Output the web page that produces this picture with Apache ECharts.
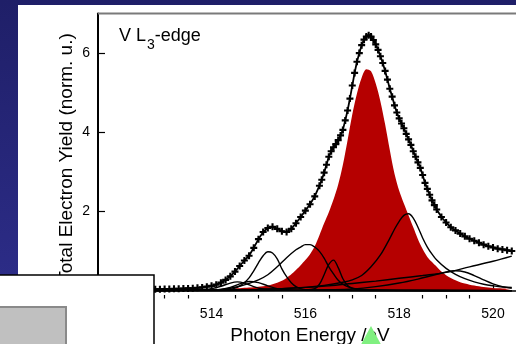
<!DOCTYPE html>
<html>
<head>
<meta charset="utf-8">
<script src="https://cdn.jsdelivr.net/npm/echarts@6/dist/echarts.min.js"></script>
<style>
html,body{margin:0;padding:0;background:#26267a;}
#c{width:516px;height:344px;}
</style>
</head>
<body>
<div id="c"></div>
<script>
// Photon energy (eV) / normalised total electron yield pairs

// measured spectrum
const teyData = [
  [512.0,0.03],[512.1,0.03],[512.2,0.03],[512.3,0.03],[512.4,0.03],[512.5,0.03],[512.6,0.03],[512.7,0.03],
  [512.8,0.035],[512.9,0.035],[513.0,0.04],[513.1,0.04],[513.2,0.045],[513.3,0.045],[513.4,0.05],[513.5,0.055],
  [513.6,0.06],[513.7,0.07],[513.8,0.08],[513.9,0.1],[514.0,0.12],[514.1,0.15],[514.2,0.2],[514.3,0.27],
  [514.4,0.36],[514.5,0.48],[514.6,0.62],[514.7,0.76],[514.8,0.88],[514.9,1.08],[515.0,1.3],[515.1,1.48],
  [515.2,1.58],[515.3,1.61],[515.4,1.56],[515.5,1.5],[515.6,1.48],[515.7,1.56],[515.8,1.7],[515.9,1.86],
  [516.0,2.02],[516.1,2.18],[516.2,2.38],[516.3,2.65],[516.35,2.8],[516.4,2.98],[516.45,3.18],[516.5,3.38],
  [516.55,3.52],[516.6,3.62],[516.65,3.7],[516.7,3.8],[516.75,3.92],[516.8,4.06],[516.85,4.3],[516.9,4.55],
  [516.95,4.85],[517.0,5.18],[517.05,5.5],[517.1,5.78],[517.15,6.0],[517.2,6.2],[517.25,6.34],[517.3,6.42],
  [517.35,6.45],[517.4,6.42],[517.45,6.33],[517.5,6.22],[517.55,6.08],[517.6,5.92],[517.65,5.75],[517.7,5.55],
  [517.75,5.33],[517.8,5.1],[517.85,4.9],[517.9,4.68],[517.95,4.5],[518.0,4.35],[518.05,4.22],[518.1,4.1],
  [518.15,3.96],[518.2,3.82],[518.25,3.68],[518.3,3.52],[518.35,3.38],[518.4,3.24],[518.45,3.1],[518.5,2.92],
  [518.55,2.72],[518.6,2.57],[518.65,2.42],[518.7,2.28],[518.75,2.16],[518.8,2.05],[518.9,1.86],[519.0,1.72],
  [519.1,1.6],[519.2,1.52],[519.3,1.44],[519.4,1.37],[519.5,1.31],[519.6,1.26],[519.7,1.21],[519.8,1.16],
  [519.9,1.12],[520.0,1.09],[520.1,1.06],[520.2,1.04],[520.3,1.02],[520.4,1.0]
];

// main L3 component (filled)
const mainPeak = [
  [512.0,0.01],[512.5,0.015],[513.0,0.02],[513.5,0.025],[514.0,0.035],[514.2,0.04],[514.4,0.05],[514.6,0.06],
  [514.8,0.075],[515.0,0.1],[515.1,0.11],[515.2,0.13],[515.3,0.16],[515.4,0.2],[515.5,0.25],[515.6,0.32],
  [515.7,0.41],[515.8,0.52],[515.9,0.64],[516.0,0.77],[516.1,0.92],[516.2,1.12],[516.3,1.4],[516.4,1.7],
  [516.5,1.98],[516.6,2.3],[516.7,2.68],[516.8,3.18],[516.9,3.8],[517.0,4.45],[517.1,4.98],[517.2,5.38],
  [517.3,5.59],[517.4,5.54],[517.5,5.23],[517.6,4.78],[517.7,4.2],[517.8,3.55],[517.9,2.95],[518.0,2.52],
  [518.1,2.2],[518.2,1.9],[518.3,1.6],[518.4,1.3],[518.5,1.05],[518.6,0.85],[518.7,0.72],[518.8,0.6],
  [518.9,0.48],[519.0,0.39],[519.1,0.32],[519.2,0.26],[519.3,0.21],[519.4,0.18],[519.5,0.15],[519.6,0.13],
  [519.7,0.11],[519.8,0.09],[519.9,0.08],[520.0,0.065],[520.2,0.055],[520.4,0.045]
];

// further fit components
const peak514a = [
  [512.0,0.0],[513.0,0.005],[513.5,0.01],[513.8,0.02],[514.0,0.05],[514.2,0.11],[514.4,0.19],[514.55,0.22],
  [514.7,0.19],[514.9,0.1],[515.1,0.04],[515.3,0.015],[515.8,0.005],[520.4,0.0]
];
const peak514b = [
  [512.0,0.0],[513.5,0.005],[514.0,0.01],[514.2,0.03],[514.4,0.08],[514.6,0.17],[514.8,0.23],[515.0,0.2],
  [515.2,0.12],[515.4,0.05],[515.6,0.02],[516.0,0.005],[520.4,0.0]
];
const peak515 = [
  [512.0,0.0],[513.5,0.005],[514.0,0.01],[514.2,0.015],[514.4,0.03],[514.5,0.06],[514.6,0.12],[514.7,0.2],
  [514.8,0.32],[514.9,0.5],[515.0,0.7],[515.1,0.88],[515.2,0.98],[515.3,0.95],[515.4,0.8],[515.5,0.55],
  [515.6,0.35],[515.7,0.2],[515.8,0.1],[515.9,0.05],[516.0,0.025],[516.3,0.01],[517.0,0.005],[520.4,0.0]
];
const peak516 = [
  [512.0,0.0],[513.5,0.01],[514.0,0.02],[514.2,0.03],[514.4,0.06],[514.6,0.11],[514.8,0.18],[515.0,0.27],
  [515.2,0.4],[515.4,0.6],[515.6,0.83],[515.8,1.03],[515.9,1.1],[516.0,1.16],[516.1,1.16],[516.2,1.1],
  [516.3,0.99],[516.4,0.82],[516.5,0.6],[516.6,0.42],[516.7,0.26],[516.8,0.16],[516.9,0.1],[517.0,0.06],
  [517.2,0.03],[517.5,0.015],[518.0,0.005],[520.4,0.0]
];
const peak516b = [
  [512.0,0.0],[515.5,0.005],[516.0,0.015],[516.2,0.05],[516.3,0.16],[516.4,0.4],[516.5,0.66],[516.6,0.77],
  [516.7,0.58],[516.8,0.3],[516.9,0.13],[517.0,0.06],[517.1,0.03],[517.3,0.015],[517.8,0.005],[520.4,0.0]
];
const peak518 = [
  [512.0,0.0],[514.0,0.01],[514.5,0.02],[515.0,0.03],[515.5,0.05],[516.0,0.08],[516.4,0.13],[516.8,0.21],
  [517.0,0.27],[517.2,0.38],[517.4,0.6],[517.6,0.9],[517.8,1.32],[517.9,1.55],[518.0,1.75],[518.1,1.9],
  [518.2,1.94],[518.3,1.83],[518.4,1.6],[518.5,1.33],[518.6,1.1],[518.7,0.92],[518.8,0.77],[519.0,0.56],
  [519.2,0.41],[519.4,0.3],[519.6,0.22],[519.8,0.16],[520.0,0.12],[520.2,0.09],[520.4,0.08]
];
const peak519 = [
  [512.0,0.0],[515.0,0.005],[516.0,0.01],[516.5,0.02],[517.0,0.04],[517.5,0.1],[518.0,0.19],[518.4,0.29],
  [518.7,0.38],[519.0,0.47],[519.2,0.5],[519.4,0.47],[519.6,0.38],[519.8,0.27],[520.0,0.17],[520.2,0.1],
  [520.4,0.06]
];
// edge step background
const edgeStep = [
  [512.0,0.0],[514.0,0.01],[515.0,0.03],[515.5,0.05],[516.0,0.08],[516.5,0.12],[517.0,0.18],[517.5,0.24],
  [518.0,0.31],[518.5,0.38],[519.0,0.46],[519.5,0.6],[520.0,0.74],[520.4,0.87]
];

// axis ticks
const xMajorTicks = [514, 516, 518, 520];
const xMinorTicks = [512, 512.5, 513, 513.5, 514.5, 515, 515.5, 516.5, 517, 517.5, 518.5, 519, 519.5];
const yTicks = [2, 4, 6];

const FONT = '"Liberation Sans", Arial, Helvetica, sans-serif';
const X_MIN = 511.58, X_MAX = 520.49;
const chart = echarts.init(document.getElementById('c'), null, { renderer: 'canvas' });

const component = (data) => ({
  type: 'line', data: data, smooth: 0.35, showSymbol: false, silent: true,
  lineStyle: { color: '#000', width: 1.4 }, z: 4
});

// bold "+" marker for the measured points
const plusSymbol = 'path://M2.8,0H5.2V2.8H8V5.2H5.2V8H2.8V5.2H0V2.8H2.8Z';

chart.setOption({
  animation: false,
  backgroundColor: 'transparent',
  grid: { left: 98, top: 13.5, right: 0, bottom: 45.5, containLabel: false },
  xAxis: [
    {
      type: 'value', min: X_MIN, max: X_MAX,
      axisLine: { lineStyle: { color: '#000', width: 1.5 } },
      axisTick: { inside: true, length: 6, customValues: xMajorTicks, lineStyle: { color: '#000', width: 1.2 } },
      axisLabel: { customValues: xMajorTicks, color: '#000', fontSize: 14, fontFamily: FONT, margin: 9 },
      splitLine: { show: false }
    },
    {
      type: 'value', min: X_MIN, max: X_MAX, position: 'bottom',
      axisLine: { show: false },
      axisTick: { inside: true, length: 3.5, customValues: xMinorTicks, lineStyle: { color: '#000', width: 1.2 } },
      axisLabel: { show: false },
      splitLine: { show: false }
    }
  ],
  yAxis: {
    type: 'value', min: -0.2, max: 7,
    axisLine: { lineStyle: { color: '#000', width: 2 } },
    axisTick: { inside: true, length: 7, customValues: yTicks, lineStyle: { color: '#000', width: 1.2 } },
    axisLabel: { customValues: yTicks, color: '#000', fontSize: 14, fontFamily: FONT, margin: 8 },
    splitLine: { show: false }
  },
  series: [
    {
      type: 'line', data: mainPeak, smooth: 0.3, showSymbol: false, silent: true,
      lineStyle: { width: 0 }, areaStyle: { color: '#b50000', opacity: 1 }, z: 2
    },
    component(edgeStep),
    component(peak514a),
    component(peak514b),
    component(peak515),
    component(peak516),
    component(peak516b),
    component(peak518),
    component(peak519),
    {
      type: 'line', data: teyData, silent: true,
      symbol: plusSymbol, symbolSize: 7, showSymbol: true, showAllSymbol: true,
      itemStyle: { color: '#000' },
      lineStyle: { color: '#000', width: 1.8 }, z: 6
    }
  ],
  graphic: [
    {
      type: 'rect', z: -10, silent: true,
      shape: { x: 0, y: 0, width: 516, height: 344 },
      style: { fill: new echarts.graphic.LinearGradient(0, 0, 0, 1, [
        { offset: 0, color: '#1f1f68' }, { offset: 1, color: '#2f2f8e' }]) }
    },
    {
      type: 'rect', z: -9, silent: true,
      shape: { x: 18, y: 5, width: 520, height: 350 },
      style: { fill: '#ffffff' }
    },
    {
      type: 'line', z: 5, silent: true,
      shape: { x1: 98, y1: 13.5, x2: 520, y2: 13.5 },
      style: { stroke: '#7a7a7a', lineWidth: 2 }
    },
    {
      type: 'text', z: 5, silent: true, x: 119, y: 27,
      style: {
        text: '{n|V L}{s|3}{n|-edge}',
        rich: {
          n: { fontSize: 18, fontFamily: FONT, lineHeight: 18, verticalAlign: 'top', fill: '#000' },
          s: { fontSize: 14, fontFamily: FONT, lineHeight: 14, verticalAlign: 'top', padding: [11, 0, 0, 1], fill: '#000' }
        }
      }
    },
    {
      type: 'text', z: 5, silent: true, x: 67, y: 158, rotation: Math.PI / 2,
      style: {
        text: 'Total Electron Yield (norm. u.)', fontSize: 19, fontFamily: FONT,
        fill: '#000', align: 'center', verticalAlign: 'middle'
      }
    },
    {
      type: 'text', z: 5, silent: true, x: 310, y: 336,
      style: {
        text: 'Photon Energy /eV', fontSize: 19, fontFamily: FONT,
        fill: '#000', align: 'center', verticalAlign: 'middle'
      }
    },
    {
      type: 'rect', z: 50, silent: true,
      shape: { x: -2, y: 275, width: 156, height: 72 },
      style: { fill: '#ffffff', stroke: '#000', lineWidth: 1.5 }
    },
    {
      type: 'rect', z: 51, silent: true,
      shape: { x: -2, y: 307, width: 68, height: 40 },
      style: { fill: '#c0c0c0', stroke: '#8a8a8a', lineWidth: 2 }
    },
    {
      type: 'polygon', z: 52, silent: true,
      shape: { points: [[371, 326], [358, 350], [384, 350]] },
      style: { fill: '#80f080' }
    }
  ]
});
</script>
</body>
</html>
